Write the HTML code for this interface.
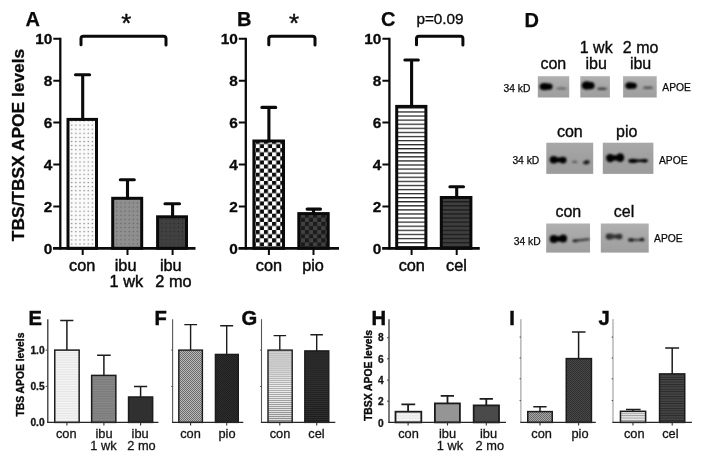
<!DOCTYPE html>
<html>
<head>
<meta charset="utf-8">
<title>APOE levels figure</title>
<style>
  html, body { margin: 0; padding: 0; background: #ffffff; }
  body { width: 704px; height: 459px; overflow: hidden; font-family: "Liberation Sans", sans-serif; }
  svg { display: block; filter: grayscale(100%); }
  svg text { font-family: "Liberation Sans", sans-serif; fill: #0a0a0a; }
  .pl { font-weight: bold; font-size: 20px; stroke: #0a0a0a; stroke-width: 0.25px; }
  .tk { font-weight: bold; font-size: 15.4px; text-anchor: end; stroke: #0a0a0a; stroke-width: 0.3px; }
  .xl { font-size: 16.3px; text-anchor: middle; stroke: #0a0a0a; stroke-width: 0.45px; }
  .stk { font-weight: bold; font-size: 10.2px; text-anchor: end; fill: #141414; stroke: #141414; stroke-width: 0.3px; }
  .sxl { font-size: 12.8px; text-anchor: middle; fill: #141414; stroke: #141414; stroke-width: 0.3px; }
  .pl2 { font-weight: bold; font-size: 20.2px; stroke: #0a0a0a; stroke-width: 0.45px; }
  .bl { font-size: 16px; text-anchor: middle; stroke: #0a0a0a; stroke-width: 0.35px; }
  .kd { font-size: 10.3px; stroke: #0a0a0a; stroke-width: 0.25px; }
</style>
</head>
<body>
<svg width="704" height="459" viewBox="0 0 704 459">
<defs>
  <!-- top row patterns -->
  <pattern id="dotW" width="4.1" height="4.1" patternUnits="userSpaceOnUse">
    <rect width="4.1" height="4.1" fill="#fbfbfb"/><rect x="1.5" y="1.5" width="1.2" height="1.2" fill="#707070"/>
  </pattern>
  <pattern id="dotG" width="4.1" height="4.1" patternUnits="userSpaceOnUse">
    <rect width="4.1" height="4.1" fill="#8f8f8f"/><rect x="1.5" y="1.5" width="1.1" height="1.1" fill="#5a5a5a"/>
  </pattern>
  <pattern id="dotD" width="4.1" height="4.1" patternUnits="userSpaceOnUse">
    <rect width="4.1" height="4.1" fill="#404040"/><rect x="1.5" y="1.5" width="1.1" height="1.1" fill="#252525"/>
  </pattern>
  <pattern id="chkW" width="8.2" height="8.2" patternUnits="userSpaceOnUse" x="1.5" y="0.5">
    <rect width="8.2" height="8.2" fill="#fff"/><rect width="4.1" height="4.1" fill="#0c0c0c"/><rect x="4.1" y="4.1" width="4.1" height="4.1" fill="#0c0c0c"/>
  </pattern>
  <pattern id="chkD" width="8.2" height="8.2" patternUnits="userSpaceOnUse" x="1.5" y="0.5">
    <rect width="8.2" height="8.2" fill="#424242"/><rect width="4.1" height="4.1" fill="#1a1a1a"/><rect x="4.1" y="4.1" width="4.1" height="4.1" fill="#1a1a1a"/>
  </pattern>
  <pattern id="hzW" width="4.08" height="4.08" patternUnits="userSpaceOnUse" y="1.2">
    <rect width="4.08" height="4.08" fill="#fff"/><rect width="4.08" height="1.25" fill="#222"/>
  </pattern>
  <pattern id="hzD" width="4.08" height="4.08" patternUnits="userSpaceOnUse" y="1.2">
    <rect width="4.08" height="4.08" fill="#3e3e3e"/><rect width="4.08" height="1.25" fill="#1a1a1a"/>
  </pattern>
  <!-- bottom row patterns -->
  <pattern id="sLtE" width="4" height="1.7" patternUnits="userSpaceOnUse">
    <rect width="4" height="1.7" fill="#f6f6f6"/><rect width="4" height="0.7" fill="#e2e2e2"/>
  </pattern>
  <pattern id="sMidE" width="4" height="1.7" patternUnits="userSpaceOnUse">
    <rect width="4" height="1.7" fill="#888"/><rect width="4" height="0.7" fill="#787878"/>
  </pattern>
  <pattern id="sChk" width="2" height="2" patternUnits="userSpaceOnUse">
    <rect width="2" height="2" fill="#b8b8b8"/><rect width="1" height="1" fill="#6c6c6c"/><rect x="1" y="1" width="1" height="1" fill="#6c6c6c"/>
  </pattern>
  <pattern id="sChkI" width="2" height="2" patternUnits="userSpaceOnUse">
    <rect width="2" height="2" fill="#a8a8a8"/><rect width="1" height="1" fill="#686868"/><rect x="1" y="1" width="1" height="1" fill="#686868"/>
  </pattern>
  <pattern id="sDkF" width="2" height="2" patternUnits="userSpaceOnUse">
    <rect width="2" height="2" fill="#2e2e2e"/><rect width="1" height="1" fill="#1e1e1e"/><rect x="1" y="1" width="1" height="1" fill="#1e1e1e"/>
  </pattern>
  <pattern id="sDkI" width="2" height="2" patternUnits="userSpaceOnUse">
    <rect width="2" height="2" fill="#484848"/><rect width="1" height="1" fill="#303030"/><rect x="1" y="1" width="1" height="1" fill="#303030"/>
  </pattern>
  <pattern id="sHzW" width="4" height="2.02" patternUnits="userSpaceOnUse">
    <rect width="4" height="2.02" fill="#ececec"/><rect width="4" height="0.85" fill="#8c8c8c"/>
  </pattern>
  <pattern id="sHzJ" width="4" height="2.4" patternUnits="userSpaceOnUse">
    <rect width="4" height="2.4" fill="#e6e6e6"/><rect width="4" height="0.9" fill="#9a9a9a"/>
  </pattern>
  <pattern id="sDkG" width="4" height="2.02" patternUnits="userSpaceOnUse">
    <rect width="4" height="2.02" fill="#303030"/><rect width="4" height="0.85" fill="#1c1c1c"/>
  </pattern>
  <pattern id="sHzD" width="4" height="2.4" patternUnits="userSpaceOnUse">
    <rect width="4" height="2.4" fill="#454545"/><rect width="4" height="0.9" fill="#2a2a2a"/>
  </pattern>
  <linearGradient id="gb" x1="0" y1="0" x2="0" y2="1"><stop offset="0" stop-color="#b0b0b0"/><stop offset="0.5" stop-color="#a6a6a6"/><stop offset="1" stop-color="#9e9e9e"/></linearGradient>
  <linearGradient id="gb2" x1="0" y1="0" x2="0" y2="1"><stop offset="0" stop-color="#a8a8a8"/><stop offset="0.5" stop-color="#a0a0a0"/><stop offset="1" stop-color="#9c9c9c"/></linearGradient>
  <filter id="b1" x="-30%" y="-60%" width="160%" height="220%"><feGaussianBlur stdDeviation="1.1"/></filter>
  <filter id="b2" x="-30%" y="-60%" width="160%" height="220%"><feGaussianBlur stdDeviation="0.8"/></filter>
</defs>

<!-- ================= PANEL A ================= -->
<g id="panelA">
  <text class="pl" x="25.5" y="26">A</text>
  <text x="126.3" y="31.5" font-size="26" text-anchor="middle" stroke="#0a0a0a" stroke-width="0.4">*</text>
  <path d="M81 44.8 V38.6 Q81 36.2 83.4 36.2 H163.6 Q166 36.2 166 38.6 V45" fill="none" stroke="#0a0a0a" stroke-width="3" stroke-linecap="round"/>
  <text transform="translate(24,145) rotate(-90)" font-size="16.8" font-weight="bold" stroke="#0a0a0a" stroke-width="0.3" text-anchor="middle" textLength="192.5" lengthAdjust="spacingAndGlyphs">TBS/TBSX APOE levels</text>
  <rect x="68.0" y="119.4" width="28.5" height="128.9" fill="url(#dotW)" stroke="#0a0a0a" stroke-width="3.0"/>
  <path d="M82.7 119.4 V74.7 M75.5 74.7 H89.6" stroke="#0a0a0a" stroke-width="3.1" stroke-linecap="round" fill="none"/>
  <rect x="112.7" y="198.3" width="29.0" height="50.0" fill="url(#dotG)" stroke="#0a0a0a" stroke-width="3.0"/>
  <path d="M127.5 198.3 V179.8 M120.3 179.8 H134.3" stroke="#0a0a0a" stroke-width="3.1" stroke-linecap="round" fill="none"/>
  <rect x="157.6" y="216.8" width="28.9" height="31.5" fill="url(#dotD)" stroke="#0a0a0a" stroke-width="3.0"/>
  <path d="M172.6 216.8 V203.7 M165.0 203.7 H179.5" stroke="#0a0a0a" stroke-width="3.1" stroke-linecap="round" fill="none"/>
  <path d="M60.3 37.8 V249.5" stroke="#0a0a0a" stroke-width="2.3" fill="none"/>
  <path d="M53.0 248.3 H195.5" stroke="#0a0a0a" stroke-width="2.8" fill="none"/>
  <path d="M53.3 38.8 H60.3 M53.3 80.7 H60.3 M53.3 122.6 H60.3 M53.3 164.5 H60.3 M53.3 206.4 H60.3" stroke="#0a0a0a" stroke-width="2"/>
  <path d="M82.7 248.3 V254.9 M127.5 248.3 V254.9 M172.6 248.3 V254.9" stroke="#0a0a0a" stroke-width="2"/>
  <text class="tk" x="52.3" y="44.3">10</text>
  <text class="tk" x="52.3" y="86.2">8</text>
  <text class="tk" x="52.3" y="128.1">6</text>
  <text class="tk" x="52.3" y="170.0">4</text>
  <text class="tk" x="52.3" y="211.9">2</text>
  <text class="tk" x="52.3" y="253.8">0</text>
  <text class="xl" x="82.2" y="270.5">con</text>
  <text class="xl" x="125.6" y="270.5">ibu</text>
  <text class="xl" x="126.3" y="286.9">1 wk</text>
  <text class="xl" x="170.8" y="270.5">ibu</text>
  <text class="xl" x="173.4" y="286.9">2 mo</text>
</g>

<!-- ================= PANEL B ================= -->
<g id="panelB">
  <text class="pl" x="237" y="26">B</text>
  <text x="294" y="31.5" font-size="26" text-anchor="middle" stroke="#0a0a0a" stroke-width="0.4">*</text>
  <path d="M268.8 44.8 V38.6 Q268.8 36.2 271.2 36.2 H312.6 Q315 36.2 315 38.6 V45" fill="none" stroke="#0a0a0a" stroke-width="3" stroke-linecap="round"/>
  <rect x="253.9" y="141" width="29.6" height="107.3" fill="url(#chkW)" stroke="#0a0a0a" stroke-width="3.0"/>
  <path d="M268.9 141 V107.4 M261.9 107.4 H275.7" stroke="#0a0a0a" stroke-width="3.1" stroke-linecap="round" fill="none"/>
  <rect x="298.8" y="213.6" width="29.4" height="34.7" fill="url(#chkD)" stroke="#0a0a0a" stroke-width="3.0"/>
  <path d="M313.5 213.6 V209.1 M307.1 209.1 H320.5" stroke="#0a0a0a" stroke-width="3.1" stroke-linecap="round" fill="none"/>
  <path d="M245.8 37.8 V249.5" stroke="#0a0a0a" stroke-width="2.3" fill="none"/>
  <path d="M238.5 248.3 H339" stroke="#0a0a0a" stroke-width="2.8" fill="none"/>
  <path d="M238.8 38.8 H245.8 M238.8 80.7 H245.8 M238.8 122.6 H245.8 M238.8 164.5 H245.8 M238.8 206.4 H245.8" stroke="#0a0a0a" stroke-width="2"/>
  <path d="M268.9 248.3 V254.9 M313.5 248.3 V254.9" stroke="#0a0a0a" stroke-width="2"/>
  <text class="tk" x="237.8" y="44.3">10</text>
  <text class="tk" x="237.8" y="86.2">8</text>
  <text class="tk" x="237.8" y="128.1">6</text>
  <text class="tk" x="237.8" y="170.0">4</text>
  <text class="tk" x="237.8" y="211.9">2</text>
  <text class="tk" x="237.8" y="253.8">0</text>
  <text class="xl" x="269" y="270.5">con</text>
  <text class="xl" x="313" y="270.5">pio</text>
</g>

<!-- ================= PANEL C ================= -->
<g id="panelC">
  <text class="pl" x="381" y="26">C</text>
  <text x="440" y="23.5" font-size="15.3" text-anchor="middle" stroke="#0a0a0a" stroke-width="0.35">p=0.09</text>
  <path d="M416.5 44.8 V38.6 Q416.5 36.2 418.9 36.2 H460.5 Q462.9 36.2 462.9 38.6 V45" fill="none" stroke="#0a0a0a" stroke-width="3" stroke-linecap="round"/>
  <rect x="396.7" y="106.4" width="29.2" height="141.9" fill="url(#hzW)" stroke="#0a0a0a" stroke-width="3.0"/>
  <path d="M411.6 106.4 V60 M404.9 60 H418.3" stroke="#0a0a0a" stroke-width="3.1" stroke-linecap="round" fill="none"/>
  <rect x="441.3" y="197.5" width="29.6" height="50.8" fill="url(#hzD)" stroke="#0a0a0a" stroke-width="3.0"/>
  <path d="M456.7 197.5 V186.8 M449.9 186.8 H463.5" stroke="#0a0a0a" stroke-width="3.1" stroke-linecap="round" fill="none"/>
  <path d="M389.4 37.8 V249.5" stroke="#0a0a0a" stroke-width="2.3" fill="none"/>
  <path d="M382.09999999999997 248.3 H479.8" stroke="#0a0a0a" stroke-width="2.8" fill="none"/>
  <path d="M382.4 38.8 H389.4 M382.4 80.7 H389.4 M382.4 122.6 H389.4 M382.4 164.5 H389.4 M382.4 206.4 H389.4" stroke="#0a0a0a" stroke-width="2"/>
  <path d="M411.6 248.3 V254.9 M456.7 248.3 V254.9" stroke="#0a0a0a" stroke-width="2"/>
  <text class="tk" x="381.4" y="44.3">10</text>
  <text class="tk" x="381.4" y="86.2">8</text>
  <text class="tk" x="381.4" y="128.1">6</text>
  <text class="tk" x="381.4" y="170.0">4</text>
  <text class="tk" x="381.4" y="211.9">2</text>
  <text class="tk" x="381.4" y="253.8">0</text>
  <text class="xl" x="411.8" y="270.5">con</text>
  <text class="xl" x="456.5" y="270.5">cel</text>
</g>

<!-- ================= PANEL D ================= -->
<g id="panelD">
  <text class="pl" x="524.5" y="27">D</text>
  <text class="bl" x="553.3" y="69.2">con</text>
  <text class="bl" x="596.2" y="52.5">1 wk</text>
  <text class="bl" x="596.2" y="69.2">ibu</text>
  <text class="bl" x="640.6" y="52.5">2 mo</text>
  <text class="bl" x="640.6" y="69.2">ibu</text>
  <text class="kd" x="503.5" y="92.1">34 kD</text>
  <text class="kd" x="662.3" y="91.1">APOE</text>
  <!-- row 1 blots -->
  <rect x="537.8" y="76.2" width="31.4" height="21.3" fill="url(#gb)"/>
  <rect x="580.3" y="76.2" width="29.6" height="21.3" fill="url(#gb)"/>
  <rect x="623.1" y="76.2" width="33.6" height="21.3" fill="url(#gb)"/>
  <g filter="url(#b1)">
    <rect x="539.6" y="83.4" width="13" height="6.4" rx="3.2" fill="#000"/>
    <ellipse cx="544.5" cy="86.6" rx="4.4" ry="3.6" fill="#000"/>
    <ellipse cx="561.4" cy="88.5" rx="5.2" ry="1" fill="#5e5e5e"/>
    <rect x="581.8" y="82" width="12.8" height="7.2" rx="3.6" fill="#000"/>
    <ellipse cx="586.8" cy="85.4" rx="4.8" ry="4.2" fill="#000"/>
    <ellipse cx="602" cy="88.8" rx="5" ry="1.3" fill="#3c3c3c"/>
    <rect x="625.4" y="82.7" width="11.4" height="6" rx="3" fill="#000"/>
    <ellipse cx="629.6" cy="85.6" rx="3.8" ry="3.3" fill="#000"/>
    <ellipse cx="648" cy="87.7" rx="5.2" ry="1.2" fill="#505050"/>
  </g>
  <!-- row 2 -->
  <text class="bl" x="569.8" y="137.2">con</text>
  <text class="bl" x="626.8" y="137.2">pio</text>
  <text class="kd" x="512.4" y="164">34 kD</text>
  <text class="kd" x="659" y="163.7">APOE</text>
  <rect x="546.3" y="142.7" width="46.9" height="31.2" fill="url(#gb2)"/>
  <rect x="602.8" y="142.7" width="50.6" height="31.2" fill="url(#gb2)"/>
  <g filter="url(#b1)">
    <ellipse cx="553.6" cy="159.8" rx="4" ry="3.7" fill="#000"/>
    <rect x="551" y="157.6" width="14" height="4.6" rx="2.3" fill="#000"/>
    <ellipse cx="563" cy="160.1" rx="3.6" ry="3.4" fill="#000"/>
    <ellipse cx="574.8" cy="161.9" rx="2.8" ry="1.2" fill="#5a5a5a"/>
    <ellipse cx="586.4" cy="162.3" rx="3.2" ry="1.9" fill="#0c0c0c" transform="rotate(-12 586.4 162.3)"/>
    <ellipse cx="610.2" cy="158.1" rx="4.2" ry="4.2" fill="#000"/>
    <rect x="608" y="155.2" width="14.5" height="5.4" rx="2.7" fill="#000"/>
    <ellipse cx="620.2" cy="157.7" rx="4" ry="4.4" fill="#000"/>
    <rect x="628.6" y="159.6" width="19" height="2.5" rx="1.25" fill="#000"/>
    <ellipse cx="633" cy="160.9" rx="4.6" ry="2.1" fill="#000"/>
    <ellipse cx="644.5" cy="160.7" rx="3.2" ry="1.8" fill="#050505"/>
  </g>
  <!-- row 3 -->
  <text class="bl" x="568.3" y="217.3">con</text>
  <text class="bl" x="624" y="217.3">cel</text>
  <text class="kd" x="513.8" y="245.1">34 kD</text>
  <text class="kd" x="654.1" y="241.8">APOE</text>
  <rect x="546.2" y="223.5" width="43.8" height="29.1" fill="url(#gb)"/>
  <rect x="600.8" y="223.5" width="47.9" height="29.1" fill="url(#gb)"/>
  <g filter="url(#b1)">
    <ellipse cx="553.8" cy="238.9" rx="4.2" ry="4" fill="#000"/>
    <rect x="551" y="236.2" width="14.5" height="5.2" rx="2.6" fill="#000"/>
    <ellipse cx="563.2" cy="238.5" rx="3.9" ry="3.9" fill="#000"/>
    <path d="M573.5 240.9 L588.5 239.3" stroke="#2e2e2e" stroke-width="2" stroke-linecap="round" fill="none"/>
    <ellipse cx="575.2" cy="240.7" rx="2.4" ry="1.5" fill="#1c1c1c"/>
    <ellipse cx="609.8" cy="236.5" rx="4" ry="3.1" fill="#202020"/>
    <rect x="608" y="234.6" width="13.5" height="3.8" rx="1.9" fill="#383838"/>
    <ellipse cx="619.2" cy="236.6" rx="3.3" ry="2.9" fill="#303030"/>
    <rect x="628.5" y="238.9" width="15.5" height="1.8" rx="0.9" fill="#2a2a2a"/>
    <ellipse cx="631" cy="239.9" rx="3" ry="1.6" fill="#161616"/>
    <ellipse cx="642" cy="239.7" rx="2.6" ry="1.6" fill="#161616"/>
  </g>
</g>

<!-- ================= BOTTOM ROW ================= -->
<g id="panelE">
  <text class="pl2" x="28.4" y="324.8">E</text>
  <text transform="translate(24.2,374.6) rotate(-90)" font-size="10.33" font-weight="bold" text-anchor="middle" stroke="#0a0a0a" stroke-width="0.35">TBS APOE levels</text>
  <path d="M66.9 350.1 V320.5 M60.2 320.5 H73.4" stroke="#1c1c1c" stroke-width="1.5" fill="none"/>
  <rect x="54.75" y="350.1" width="24.4" height="72.3" fill="url(#sLtE)" stroke="#1c1c1c" stroke-width="1.5"/>
  <path d="M103.9 375.4 V355.3 M97.1 355.3 H110.7" stroke="#1c1c1c" stroke-width="1.5" fill="none"/>
  <rect x="91.65" y="375.4" width="24.2" height="47.0" fill="url(#sMidE)" stroke="#1c1c1c" stroke-width="1.5"/>
  <path d="M140.6 397 V386.5 M134 386.5 H147.2" stroke="#1c1c1c" stroke-width="1.5" fill="none"/>
  <rect x="128.55" y="397" width="24.1" height="25.4" fill="#303030" stroke="#1c1c1c" stroke-width="1.5"/>
  <path d="M47.8 319.2 V423.0" stroke="#333" stroke-width="1.3" fill="none"/>
  <path d="M47.199999999999996 422.4 H158.4" stroke="#262626" stroke-width="1.4" fill="none"/>
  <text class="stk" x="44.6" y="353.8">1.0</text>
  <text class="stk" x="44.6" y="390.1">0.5</text>
  <text class="stk" x="44.6" y="426.1">0.0</text>
  <path d="M45.6 350.1 H47.8 M45.6 386.4 H47.8" stroke="#444" stroke-width="1"/>
  <path d="M66.9 422.4 V425.59999999999997 M103.9 422.4 V425.59999999999997 M140.6 422.4 V425.59999999999997" stroke="#333" stroke-width="1.1"/>
  <text class="sxl" x="66.3" y="438.4">con</text>
  <text class="sxl" x="104" y="438.4">ibu</text>
  <text class="sxl" x="103.4" y="450.2">1 wk</text>
  <text class="sxl" x="140.1" y="438.4">ibu</text>
  <text class="sxl" x="141.5" y="450.2">2 mo</text>
</g>
<g id="panelF">
  <text class="pl2" x="154.6" y="324.8">F</text>
  <path d="M190.6 350.1 V324.6 M184.3 324.6 H197.1" stroke="#1c1c1c" stroke-width="1.4" fill="none"/>
  <rect x="178.8" y="350.1" width="23.6" height="72.3" fill="url(#sChk)" stroke="#1c1c1c" stroke-width="1.4"/>
  <path d="M226.7 354.4 V325.8 M220.2 325.8 H233.2" stroke="#1c1c1c" stroke-width="1.4" fill="none"/>
  <rect x="215.4" y="354.4" width="22.9" height="68.0" fill="url(#sDkF)" stroke="#1c1c1c" stroke-width="1.4"/>
  <path d="M172.6 319.2 V423.0" stroke="#555" stroke-width="1.1" fill="none"/>
  <path d="M172.0 422.4 H243.3" stroke="#262626" stroke-width="1.4" fill="none"/>
  <path d="M171.3 350.1 H172.6 M171.3 386.5 H172.6" stroke="#444" stroke-width="1"/>
  <path d="M190.6 422.4 V425.59999999999997 M226.7 422.4 V425.59999999999997" stroke="#333" stroke-width="1.1"/>
  <text class="sxl" x="190.5" y="438.4">con</text>
  <text class="sxl" x="227" y="438.4">pio</text>
</g>
<g id="panelG">
  <text class="pl2" x="241.6" y="324.8">G</text>
  <path d="M279.8 350.1 V335.6 M273.6 335.6 H286.1" stroke="#1c1c1c" stroke-width="1.4" fill="none"/>
  <rect x="268.0" y="350.1" width="24.2" height="72.3" fill="url(#sHzW)" stroke="#1c1c1c" stroke-width="1.4"/>
  <path d="M316.7 350.9 V334.8 M310.4 334.8 H322.9" stroke="#1c1c1c" stroke-width="1.4" fill="none"/>
  <rect x="304.8" y="350.9" width="24.0" height="71.5" fill="url(#sDkG)" stroke="#1c1c1c" stroke-width="1.4"/>
  <path d="M261.5 319.2 V423.0" stroke="#555" stroke-width="1.1" fill="none"/>
  <path d="M260.9 422.4 H335.3" stroke="#262626" stroke-width="1.4" fill="none"/>
  <path d="M260.2 350.1 H261.5 M260.2 386.5 H261.5" stroke="#444" stroke-width="1"/>
  <path d="M279.8 422.4 V425.59999999999997 M316.7 422.4 V425.59999999999997" stroke="#333" stroke-width="1.1"/>
  <text class="sxl" x="280" y="438.4">con</text>
  <text class="sxl" x="316.5" y="438.4">cel</text>
</g>
<g id="panelH">
  <text class="pl2" x="371.6" y="324.8">H</text>
  <text transform="translate(372.1,375.5) rotate(-90)" font-size="10.35" font-weight="bold" text-anchor="middle" stroke="#0a0a0a" stroke-width="0.35">TBSX APOE levels</text>
  <path d="M408.1 411.7 V404.4 M401.4 404.4 H415.2" stroke="#1c1c1c" stroke-width="1.8" fill="none"/>
  <rect x="395.5" y="411.7" width="25.8" height="10.7" fill="url(#sLtE)" stroke="#1c1c1c" stroke-width="1.8"/>
  <path d="M447.5 403.4 V395.9 M440.7 395.9 H454" stroke="#1c1c1c" stroke-width="1.8" fill="none"/>
  <rect x="434.9" y="403.4" width="25.0" height="19.0" fill="#959595" stroke="#1c1c1c" stroke-width="1.8"/>
  <path d="M486.3 405.4 V398.9 M479.6 398.9 H492.9" stroke="#1c1c1c" stroke-width="1.8" fill="none"/>
  <rect x="473.7" y="405.4" width="25.3" height="17.0" fill="#4a4a4a" stroke="#1c1c1c" stroke-width="1.8"/>
  <path d="M389 319.2 V423.0" stroke="#333" stroke-width="1.3" fill="none"/>
  <path d="M388.4 422.4 H506" stroke="#262626" stroke-width="1.4" fill="none"/>
  <text class="stk" x="383.6" y="341.4">8</text>
  <text class="stk" x="383.6" y="362.5">6</text>
  <text class="stk" x="383.6" y="383.8">4</text>
  <text class="stk" x="383.6" y="404.9">2</text>
  <text class="stk" x="383.6" y="427.2">0</text>
  <path d="M387.0 337.7 H389 M387.0 358.8 H389 M387.0 380.1 H389 M387.0 401.2 H389" stroke="#444" stroke-width="1"/>
  <path d="M408.1 422.4 V425.59999999999997 M447.5 422.4 V425.59999999999997 M486.3 422.4 V425.59999999999997" stroke="#333" stroke-width="1.1"/>
  <text class="sxl" x="408.5" y="438.4">con</text>
  <text class="sxl" x="447.5" y="438.4">ibu</text>
  <text class="sxl" x="450" y="450.2">1 wk</text>
  <text class="sxl" x="488.5" y="438.4">ibu</text>
  <text class="sxl" x="489.8" y="450.2">2 mo</text>
</g>
<g id="panelI">
  <text class="pl2" x="509.2" y="324.8">I</text>
  <path d="M540 411.6 V406.7 M533.3 406.7 H546.6" stroke="#1c1c1c" stroke-width="1.5" fill="none"/>
  <rect x="527.75" y="411.6" width="24.5" height="10.8" fill="url(#sChkI)" stroke="#1c1c1c" stroke-width="1.5"/>
  <path d="M578.6 358.6 V331.9 M571.9 331.9 H585.5" stroke="#1c1c1c" stroke-width="1.5" fill="none"/>
  <rect x="566.25" y="358.6" width="25.2" height="63.8" fill="url(#sDkI)" stroke="#1c1c1c" stroke-width="1.5"/>
  <path d="M520.9 319.2 V423.0" stroke="#858585" stroke-width="0.9" fill="none"/>
  <path d="M520.3 422.4 H595.8" stroke="#262626" stroke-width="1.4" fill="none"/>
  <path d="M519.6 337.1 H520.9 M519.6 358 H520.9 M519.6 378.8 H520.9 M519.6 400.6 H520.9" stroke="#444" stroke-width="1"/>
  <path d="M540 422.4 V425.59999999999997 M578.6 422.4 V425.59999999999997" stroke="#333" stroke-width="1.1"/>
  <text class="sxl" x="541.6" y="438.4">con</text>
  <text class="sxl" x="580" y="438.4">pio</text>
</g>
<g id="panelJ">
  <text class="pl2" x="598.6" y="324.8">J</text>
  <path d="M633 411.3 V409.6 M626 409.6 H640.6" stroke="#1c1c1c" stroke-width="1.5" fill="none"/>
  <rect x="620.45" y="411.3" width="25.2" height="11.1" fill="url(#sHzJ)" stroke="#1c1c1c" stroke-width="1.5"/>
  <path d="M672.2 373.9 V348.1 M665.2 348.1 H679.1" stroke="#1c1c1c" stroke-width="1.5" fill="none"/>
  <rect x="659.55" y="373.9" width="25.2" height="48.5" fill="url(#sHzD)" stroke="#1c1c1c" stroke-width="1.5"/>
  <path d="M613 319.2 V423.0" stroke="#858585" stroke-width="0.9" fill="none"/>
  <path d="M612.4 422.4 H691.9" stroke="#262626" stroke-width="1.4" fill="none"/>
  <path d="M611.7 337.1 H613 M611.7 358 H613 M611.7 378.8 H613 M611.7 400.6 H613" stroke="#444" stroke-width="1"/>
  <path d="M633 422.4 V425.59999999999997 M672.2 422.4 V425.59999999999997" stroke="#333" stroke-width="1.1"/>
  <text class="sxl" x="634.2" y="438.4">con</text>
  <text class="sxl" x="670.4" y="438.4">cel</text>
</g>
</svg>
</body>
</html>
